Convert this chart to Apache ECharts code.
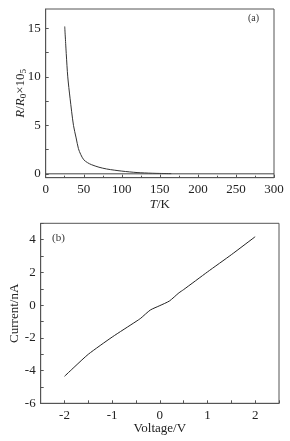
<!DOCTYPE html>
<html><head><meta charset="utf-8">
<script src="https://cdn.jsdelivr.net/npm/echarts@6/dist/echarts.min.js"></script>
<style>html,body{margin:0;padding:0;background:#fff}#c{width:290px;height:441px}</style>
</head><body><div id="c"></div>
<script>
// Panel (a): R/R0 x 10^5 vs T
const tempK = [25, 27, 29, 32, 36.5, 40, 43, 46, 50, 55, 60, 70, 80, 90, 100, 110, 120, 130, 140, 150, 165];
const resistance = [15.2, 12.4, 10.0, 7.8, 5.0, 3.7, 2.6, 2.0, 1.45, 1.15, 0.95, 0.68, 0.5, 0.38, 0.28, 0.2, 0.13, 0.09, 0.06, 0.04, 0.02];
const zeroLineX = [0, 300];
const zeroLineY = [0, 0];
const rLabels = [0, 5, 10, 15];
const rTicks = [0, 2.5, 5, 7.5, 10, 12.5, 15];
// Panel (b): I-V curve
const voltage = [-2, -1.8, -1.5, -1, -0.5, -0.4, -0.2, 0, 0.2, 0.4, 0.5, 1, 1.5, 2];
const current = [-4.35, -3.8, -3.0, -1.95, -1.0, -0.8, -0.3, -0.03, 0.25, 0.75, 0.95, 2.03, 3.08, 4.18];

const serif = '"Liberation Serif", "Times New Roman", serif';
const axColor = '#555';
function axisCommon(extra){
  return Object.assign({
    axisLine:{show:true,onZero:false,lineStyle:{color:axColor,width:1}},
    axisTick:{show:true,inside:true,length:3,lineStyle:{color:axColor}},
    minorTick:{show:true,splitNumber:2,length:2,lineStyle:{color:axColor}},
    splitLine:{show:false},
    axisLabel:{color:'#222',fontFamily:serif,fontSize:13,margin:5},
    nameMoveOverlap:false,
    nameTextStyle:{color:'#222',fontFamily:serif,fontSize:13}
  }, extra);
}
const chart = echarts.init(document.getElementById('c'));
chart.setOption({
  animation:false,
  grid:[
    {left:45.7,right:16,top:9,height:168.7,show:true,borderColor:axColor,borderWidth:1,containLabel:false,outerBoundsMode:'none'},
    {left:40.7,right:11,top:223.3,height:180,show:true,borderColor:axColor,borderWidth:1,containLabel:false,outerBoundsMode:'none'}
  ],
  xAxis:[
    axisCommon({type:'value',gridIndex:0,min:0,max:300,interval:50,
      minorTick:{show:true,splitNumber:2,length:2,lineStyle:{color:axColor}},
      name:'{i|T}/K',nameLocation:'middle',nameGap:20,
      nameTextStyle:{color:'#222',fontFamily:serif,fontSize:13,rich:{i:{fontStyle:'italic',fontFamily:serif,fontSize:13,color:'#222'}}}}),
    axisCommon({type:'value',gridIndex:1,min:-2.5,max:2.5,interval:0.5,
      minorTick:{show:false},
      axisLabel:{color:'#222',fontFamily:serif,fontSize:13,margin:6,formatter:v=>Number.isInteger(v)?String(v):''},
      name:'Voltage/V',nameLocation:'middle',nameGap:19})
  ],
  yAxis:[
    axisCommon({type:'value',gridIndex:0,min:-0.4,max:17,
      minorTick:{show:false},
      axisTick:{show:true,inside:true,length:3,lineStyle:{color:axColor},customValues:rTicks},
      axisLabel:{color:'#222',fontFamily:serif,fontSize:13,margin:5,customValues:rLabels},
      name:'{i|R}/{i|R}{sub|0}×10{sub|5}',nameLocation:'middle',nameGap:18,
      nameTextStyle:{color:'#222',fontFamily:serif,fontSize:13,
        rich:{i:{fontStyle:'italic',fontFamily:serif,fontSize:13,color:'#222'},
              sub:{fontFamily:serif,fontSize:9,color:'#222',padding:[6,0,0,0]}}}}),
    axisCommon({type:'value',gridIndex:1,min:-6,max:5,interval:1,
      minorTick:{show:false},
      axisLabel:{color:'#222',fontFamily:serif,fontSize:13,margin:5,formatter:v=>(v%2===0)?String(v):''},
      name:'Current/nA',nameLocation:'middle',nameGap:20})
  ],
  graphic:[
    {type:'text',left:248,top:13,style:{text:'(a)',font:'10px '+serif,fill:'#333'}},
    {type:'text',left:52,top:233,style:{text:'(b)',font:'11px '+serif,fill:'#333'}}
  ],
  series:[
    {type:'line',xAxisIndex:0,yAxisIndex:0,showSymbol:false,smooth:0.3,
      data:tempK.map((t,i)=>[t,resistance[i]]),lineStyle:{color:'#333',width:1}},
    {type:'line',xAxisIndex:0,yAxisIndex:0,showSymbol:false,
      data:zeroLineX.map((t,i)=>[t,zeroLineY[i]]),lineStyle:{color:'#444',width:1}},
    {type:'line',xAxisIndex:1,yAxisIndex:1,showSymbol:false,smooth:0.2,
      data:voltage.map((v,i)=>[v,current[i]]),lineStyle:{color:'#222',width:1}}
  ]
});
</script></body></html>
